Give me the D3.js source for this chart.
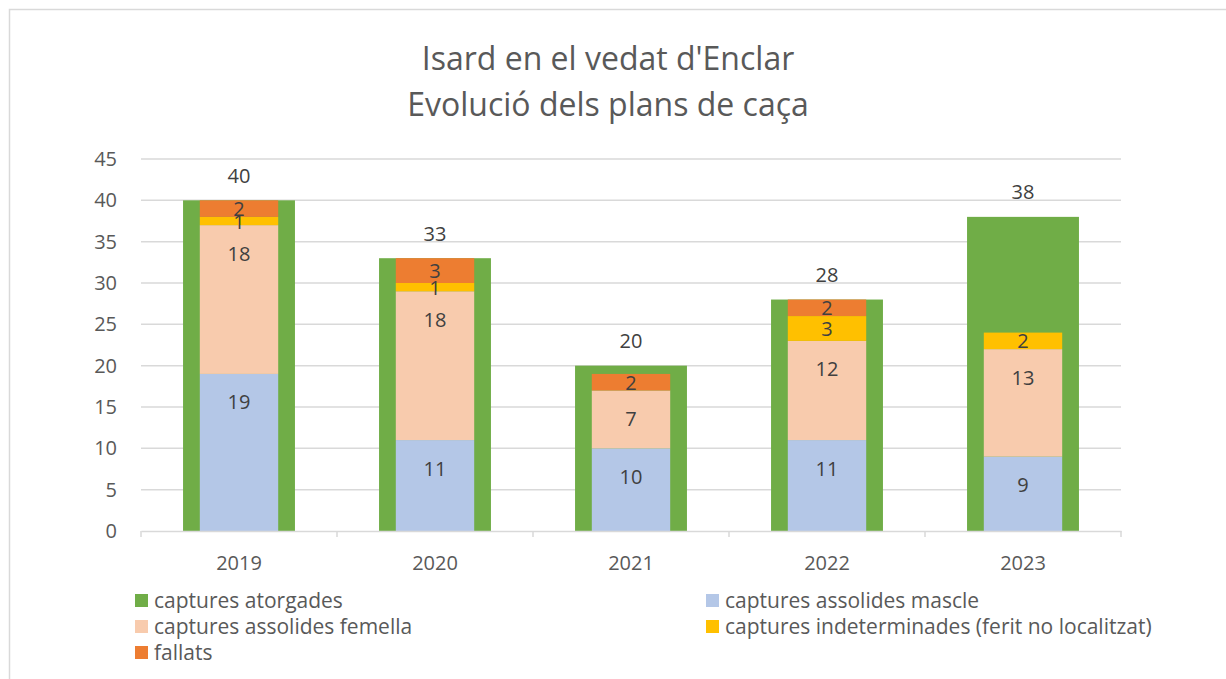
<!DOCTYPE html>
<html>
<head>
<meta charset="utf-8">
<script src="https://cdn.jsdelivr.net/npm/d3@7"></script>
<style>
  body { margin: 0; background: #fff; }
  svg { font-family: "Open Sans", sans-serif; }
</style>
</head>
<body>
<svg id="chart" width="1226" height="679"></svg>
<script>
//data
const YEARS = ["2019", "2020", "2021", "2022", "2023"];
const ATORGADES = [40, 33, 20, 28, 38];
const MASCLE = [19, 11, 10, 11, 9];
const FEMELLA = [18, 18, 7, 12, 13];
const INDETERMINADES = [1, 1, 0, 3, 2];
const FALLATS = [2, 3, 2, 2, 0];
const Y_TICKS = [0, 5, 10, 15, 20, 25, 30, 35, 40, 45];

const SERIES = [
    { name: "captures assolides mascle", values: MASCLE, color: "#B4C7E7" },
    { name: "captures assolides femella", values: FEMELLA, color: "#F8CBAD" },
    { name: "captures indeterminades (ferit no localitzat)", values: INDETERMINADES, color: "#FFC000" },
    { name: "fallats", values: FALLATS, color: "#ED7D31" }
];

const WIDTH = 1226;
const HEIGHT = 679;
const MARGIN = { top: 159, right: 105, bottom: 148, left: 141 };
const LABEL_SIZE = "20px";

const svg = d3.select("#chart");

//outer border
svg.append("rect")
    .attr("x", 9.5).attr("y", 9.5)
    .attr("width", WIDTH + 50).attr("height", HEIGHT + 50)
    .attr("fill", "none")
    .attr("stroke", "#d9d9d9")
    .attr("stroke-width", 1.5);

//title
const title = svg.append("text")
    .attr("text-anchor", "middle")
    .attr("fill", "#595959")
    .style("font-size", "32px");
title.append("tspan").attr("x", 608).attr("y", 70).text("Isard en el vedat d'Enclar");
title.append("tspan").attr("x", 608).attr("y", 116).text("Evolució dels plans de caça");

//scales
const x = d3.scaleBand().domain(YEARS).range([MARGIN.left, WIDTH - MARGIN.right]);
const y = d3.scaleLinear().domain([0, 45]).range([HEIGHT - MARGIN.bottom, MARGIN.top]);

//gridlines
svg.append("g")
    .selectAll("line")
    .data(Y_TICKS.slice(1))
    .enter()
    .append("line")
    .attr("x1", MARGIN.left)
    .attr("x2", WIDTH - MARGIN.right)
    .attr("y1", d => y(d))
    .attr("y2", d => y(d))
    .attr("stroke", "#d9d9d9")
    .attr("stroke-width", 1.5);

//y axis
const yAxis = svg.append("g")
    .attr("transform", `translate(${MARGIN.left},0)`)
    .call(d3.axisLeft(y).tickValues(Y_TICKS).tickSize(0).tickPadding(24));
yAxis.select(".domain").remove();
yAxis.selectAll("text")
    .attr("fill", "#595959")
    .style("font-size", LABEL_SIZE)
    .style("font-family", "'Open Sans', sans-serif");

//green bars (atorgades)
const outerW = x.bandwidth() * 0.571;
const innerW = x.bandwidth() * 0.4;

svg.append("g")
    .selectAll("rect")
    .data(YEARS)
    .enter()
    .append("rect")
    .attr("x", d => x(d) + (x.bandwidth() - outerW) / 2)
    .attr("width", outerW)
    .attr("y", (d, i) => y(ATORGADES[i]))
    .attr("height", (d, i) => y(0) - y(ATORGADES[i]))
    .attr("fill", "#70AD47");

svg.append("g")
    .selectAll("text")
    .data(YEARS)
    .enter()
    .append("text")
    .attr("x", d => x(d) + x.bandwidth() / 2)
    .attr("y", (d, i) => y(ATORGADES[i]) - 25)
    .attr("text-anchor", "middle")
    .attr("dominant-baseline", "central")
    .attr("fill", "#404040")
    .style("font-size", LABEL_SIZE)
    .text((d, i) => ATORGADES[i]);

//stacked inner bars
const rows = YEARS.map((yr, i) => {
    const row = { year: yr };
    SERIES.forEach(s => { row[s.name] = s.values[i]; });
    return row;
});
const stack = d3.stack().keys(SERIES.map(s => s.name))(rows);

stack.forEach((layer, k) => {
    const segs = layer.filter(d => d[1] - d[0] > 0);
    svg.append("g")
        .selectAll("rect")
        .data(segs)
        .enter()
        .append("rect")
        .attr("x", d => x(d.data.year) + (x.bandwidth() - innerW) / 2)
        .attr("width", innerW)
        .attr("y", d => y(d[1]))
        .attr("height", d => y(d[0]) - y(d[1]))
        .attr("fill", SERIES[k].color);
});

stack.forEach((layer, k) => {
    const segs = layer.filter(d => d[1] - d[0] > 0);
    svg.append("g")
        .selectAll("text")
        .data(segs)
        .enter()
        .append("text")
        .attr("x", d => x(d.data.year) + x.bandwidth() / 2)
        .attr("y", d => y(d[1]) + Math.min((y(d[0]) - y(d[1])) / 2, 28))
        .attr("text-anchor", "middle")
        .attr("dominant-baseline", "central")
        .attr("fill", "#404040")
        .style("font-size", LABEL_SIZE)
        .text(d => d[1] - d[0]);
});

//x axis
const xAxis = svg.append("g")
    .attr("transform", `translate(0,${y(0)})`)
    .call(d3.axisBottom(x).tickSize(0).tickPadding(25));
xAxis.select(".domain").attr("stroke", "#d9d9d9").attr("stroke-width", 1.5);
xAxis.selectAll("text")
    .attr("fill", "#595959")
    .style("font-size", LABEL_SIZE)
    .style("font-family", "'Open Sans', sans-serif");

//category boundary ticks
const bounds = YEARS.map(d => x(d)).concat([x(YEARS[YEARS.length - 1]) + x.bandwidth()]);
svg.append("g")
    .selectAll("line")
    .data(bounds)
    .enter()
    .append("line")
    .attr("x1", d => d)
    .attr("x2", d => d)
    .attr("y1", y(0))
    .attr("y2", y(0) + 6)
    .attr("stroke", "#d9d9d9")
    .attr("stroke-width", 1.5);

//legend
const LEGEND = [
    { name: "captures atorgades", color: "#70AD47" },
    SERIES[0], SERIES[1], SERIES[2], SERIES[3]
];
const legend = svg.append("g");
LEGEND.forEach((item, i) => {
    const col = i % 2;
    const row = Math.floor(i / 2);
    const lx = col === 0 ? 135 : 706;
    const ly = 594 + row * 26;
    legend.append("rect")
        .attr("x", lx).attr("y", ly)
        .attr("width", 13).attr("height", 13)
        .attr("fill", item.color);
    legend.append("text")
        .attr("x", lx + 19)
        .attr("y", ly + 6)
        .attr("dominant-baseline", "central")
        .attr("fill", "#595959")
        .style("font-size", "21px")
        .text(item.name);
});
</script>
</body>
</html>
